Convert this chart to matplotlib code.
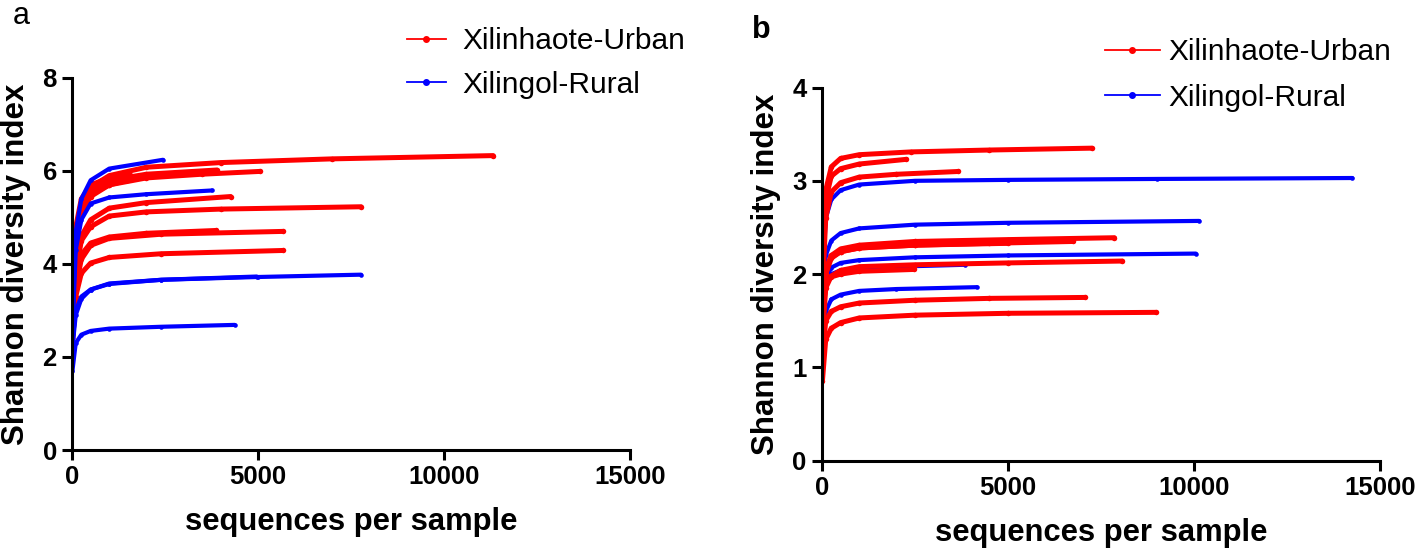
import matplotlib.pyplot as plt
from matplotlib.lines import Line2D

plt.rcParams['font.family'] = ['Liberation Sans', 'DejaVu Sans']
tick_size = 18.5

red = "#ff0000"
blue = "#0000ff"
legend_labels = ["Xilinhaote-Urban", "Xilingol-Rural"]
x_ticks = [0, 5000, 10000, 15000]

# panel a: rarefaction curves (sequences per sample, Shannon index)
a_urban_x = [
    [10, 100, 250, 500, 1000, 2000, 4000, 7000, 11320],
    [10, 100, 250, 500, 1000, 2000, 3500, 5050],
    [10, 100, 250, 500, 1000, 2000, 3890],
    [10, 100, 250, 500, 1000, 1560],
    [10, 100, 250, 500, 1000, 1500],
    [10, 100, 250, 500, 1000, 2000, 4265],
    [10, 100, 250, 500, 1000, 2000, 4000, 7770],
    [10, 100, 250, 500, 1000, 2400, 5660],
    [10, 100, 250, 500, 1000, 2000, 3870],
    [10, 100, 250, 500, 1000, 2400, 5660],
]
a_urban_y = [
    [2.8, 4.6, 5.3, 5.65, 5.9, 6.08, 6.18, 6.26, 6.33],
    [2.6, 4.4, 5.1, 5.45, 5.7, 5.85, 5.93, 5.99],
    [2.7, 4.6, 5.3, 5.6, 5.8, 5.93, 6.02],
    [2.9, 4.8, 5.4, 5.7, 5.85, 5.92],
    [2.5, 4.5, 5.2, 5.5, 5.7, 5.80],
    [2.4, 3.9, 4.6, 4.95, 5.2, 5.32, 5.45],
    [2.4, 3.8, 4.5, 4.8, 5.03, 5.12, 5.18, 5.23],
    [2.5, 3.5, 4.1, 4.4, 4.55, 4.64, 4.70],
    [2.6, 3.6, 4.2, 4.45, 4.58, 4.66, 4.72],
    [2.3, 3.3, 3.8, 4.02, 4.14, 4.22, 4.29],
]
a_rural_x = [
    [10, 100, 250, 500, 1000, 2446],
    [10, 100, 250, 500, 1000, 2000, 3755],
    [10, 100, 250, 500, 1000, 2400, 5000, 7770],
    [10, 100, 250, 500, 1000, 2400, 4965],
    [10, 100, 250, 500, 1000, 2400, 4373],
]
a_rural_y = [
    [2.6, 4.7, 5.4, 5.8, 6.05, 6.24],
    [2.5, 4.3, 4.95, 5.3, 5.43, 5.5, 5.58],
    [2.2, 2.9, 3.25, 3.45, 3.58, 3.66, 3.72, 3.77],
    [2.3, 3.0, 3.3, 3.45, 3.57, 3.66, 3.73],
    [1.7, 2.3, 2.48, 2.56, 2.61, 2.65, 2.69],
]

# panel b
b_urban_x = [
    [10, 100, 250, 500, 1000, 2400, 4500, 7250],
    [10, 100, 250, 500, 1000, 2260],
    [10, 100, 250, 500, 1000, 2000, 3660],
    [10, 100, 250, 500, 1000, 2500, 5000, 7860],
    [10, 100, 250, 500, 1000, 2500, 4500, 6760],
    [10, 100, 250, 500, 1000, 2500, 5000],
    [10, 100, 250, 500, 1000, 2500, 5000, 8070],
    [10, 100, 250, 500, 1000, 2470],
    [10, 100, 250, 500, 1000, 2500, 4500, 7070],
    [10, 100, 250, 500, 1000, 2500, 5000, 8970],
]
b_urban_y = [
    [2.0, 2.9, 3.15, 3.24, 3.28, 3.31, 3.33, 3.35],
    [1.9, 2.8, 3.05, 3.13, 3.18, 3.23],
    [1.8, 2.6, 2.88, 2.98, 3.04, 3.07, 3.10],
    [1.5, 2.05, 2.2, 2.27, 2.31, 2.35, 2.37, 2.39],
    [1.4, 2.0, 2.17, 2.24, 2.28, 2.31, 2.33, 2.35],
    [1.6, 2.05, 2.18, 2.24, 2.28, 2.31, 2.33],
    [1.3, 1.85, 1.98, 2.04, 2.08, 2.10, 2.12, 2.14],
    [1.5, 1.9, 1.97, 2.0, 2.03, 2.05],
    [1.1, 1.5, 1.6, 1.65, 1.69, 1.72, 1.74, 1.75],
    [0.85, 1.3, 1.42, 1.48, 1.53, 1.56, 1.58, 1.59],
]
b_rural_x = [
    [10, 100, 250, 500, 1000, 2500, 5000, 9000, 14256],
    [10, 100, 250, 500, 1000, 2500, 5000, 10140],
    [10, 100, 250, 500, 1000, 2500, 5000, 10050],
    [10, 100, 250, 500, 1000, 2000, 3840],
    [10, 100, 250, 500, 1000, 2000, 4160],
]
b_rural_y = [
    [1.9, 2.6, 2.8, 2.9, 2.96, 3.0, 3.01, 3.02, 3.03],
    [1.6, 2.2, 2.36, 2.44, 2.49, 2.53, 2.55, 2.57],
    [1.5, 1.95, 2.07, 2.12, 2.15, 2.18, 2.2, 2.22],
    [1.4, 1.9, 2.0, 2.04, 2.06, 2.08, 2.10],
    [1.2, 1.6, 1.73, 1.78, 1.82, 1.84, 1.86],
]


def draw_curves(ax, xs, ys, color, lw):
    for x, y in zip(xs, ys):
        ax.plot(x, y, color=color, lw=lw, solid_capstyle="round",
                marker="o", ms=lw * 1.1, mew=0)


def style_axis(ax, ymax, ystep):
    ax.set_xlim(0, 15000)
    ax.set_ylim(0, ymax)
    ax.set_xticks(x_ticks)
    ax.set_yticks(range(0, ymax + 1, ystep))
    for s in ["top", "right"]:
        ax.spines[s].set_visible(False)
    for s in ["left", "bottom"]:
        ax.spines[s].set_linewidth(2.2)
    ax.tick_params(width=2.2, length=7, pad=4)
    for lab in ax.get_xticklabels() + ax.get_yticklabels():
        lab.set_fontweight("bold")
        lab.set_fontsize(tick_size)
    ax.set_xlabel("sequences per sample", fontsize=22.3, fontweight="bold", labelpad=13)
    ax.set_ylabel("Shannon diversity index", fontsize=22.5, fontweight="bold", labelpad=8)


def add_legend(ax, anchor, hlen, hpad, lspace):
    handles = [Line2D([], [], color=c, lw=1.3, marker="o", ms=4) for c in (red, blue)]
    ax.legend(handles, legend_labels, loc="upper left", bbox_to_anchor=anchor,
              bbox_transform=fig.transFigure, frameon=False, fontsize=21.5,
              handlelength=hlen, handletextpad=hpad, labelspacing=lspace,
              borderpad=0, borderaxespad=0, numpoints=1)


fig = plt.figure(figsize=(14.18, 5.48), dpi=100)

ax1 = fig.add_axes([0.0508, 0.1788, 0.3935, 0.679])
draw_curves(ax1, a_urban_x, a_urban_y, red, 3.6)
draw_curves(ax1, a_rural_x, a_rural_y, blue, 3.0)
style_axis(ax1, 8, 2)
add_legend(ax1, (0.287, 0.950), 1.3, 0.55, 0.52)

ax2 = fig.add_axes([0.5797, 0.1593, 0.3935, 0.681])
draw_curves(ax2, b_rural_x, b_rural_y, blue, 3.0)
draw_curves(ax2, b_urban_x, b_urban_y, red, 3.6)
style_axis(ax2, 4, 1)
add_legend(ax2, (0.779, 0.930), 1.85, 0.28, 0.58)

fig.text(0.009, 0.956, "a", fontsize=22, va="baseline")
fig.text(0.530, 0.931, "b", fontsize=22, fontweight="bold", va="baseline")

fig.savefig("out.png", dpi=100)
